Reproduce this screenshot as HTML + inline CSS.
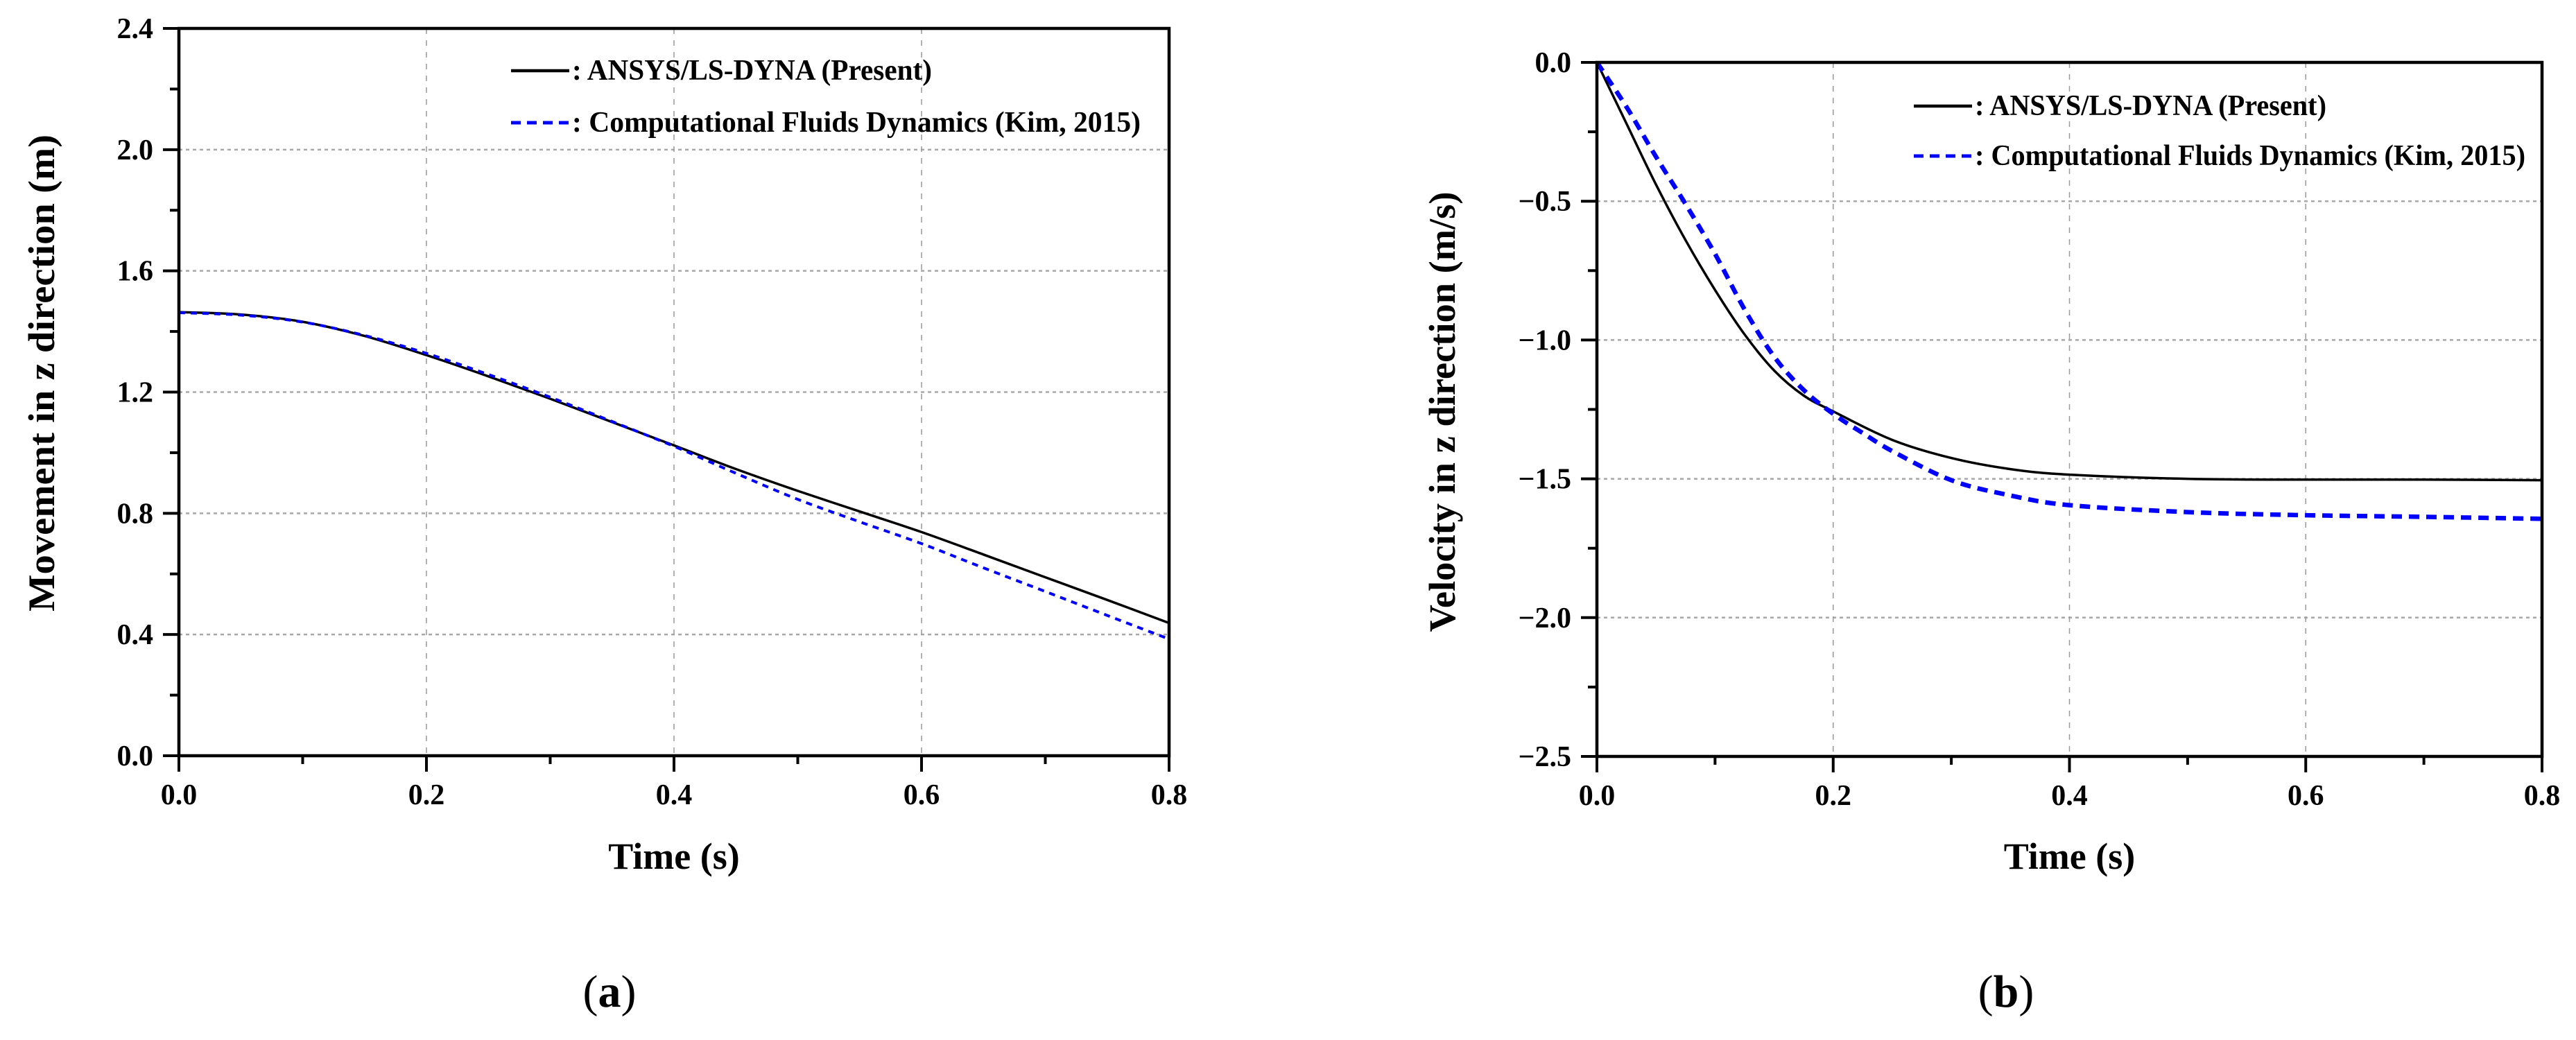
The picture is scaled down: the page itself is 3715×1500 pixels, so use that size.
<!DOCTYPE html>
<html><head><meta charset="utf-8"><style>
html,body{margin:0;padding:0;background:#fff}
svg{display:block}
text{font-family:"Liberation Serif",serif;font-weight:bold;fill:#000}
</style></head><body>
<svg id="fig" width="3715" height="1500" viewBox="0 0 3715 1500" xmlns="http://www.w3.org/2000/svg"></svg>
<script>
// Panel (a) data
const timeA = [0, 0.05, 0.1, 0.15, 0.2, 0.25, 0.3, 0.35, 0.4, 0.45, 0.5, 0.55, 0.6, 0.65, 0.7, 0.75, 0.8];
const movementLsDyna = [1.464, 1.456, 1.432, 1.385, 1.322, 1.252, 1.178, 1.101, 1.024, 0.946, 0.874, 0.806, 0.738, 0.664, 0.589, 0.514, 0.438];
const movementCfd = [1.462, 1.454, 1.431, 1.387, 1.328, 1.258, 1.183, 1.103, 1.021, 0.932, 0.846, 0.772, 0.700, 0.620, 0.542, 0.463, 0.385];
const yTicksA = [0.0, 0.4, 0.8, 1.2, 1.6, 2.0, 2.4];
const yTickLabelsA = ["0.0", "0.4", "0.8", "1.2", "1.6", "2.0", "2.4"];
// Panel (b) data
const timeB1 = [0, 0.025, 0.05, 0.075, 0.1, 0.125, 0.15, 0.175, 0.2, 0.25, 0.3, 0.35, 0.4, 0.5, 0.6, 0.7, 0.8];
const velocityLsDyna = [0, -0.22, -0.44, -0.64, -0.82, -0.98, -1.11, -1.20, -1.257, -1.36, -1.425, -1.465, -1.485, -1.50, -1.503, -1.503, -1.505];
const timeB2 = [0, 0.025, 0.05, 0.075, 0.1, 0.125, 0.15, 0.175, 0.2, 0.225, 0.25, 0.3, 0.35, 0.4, 0.5, 0.6, 0.7, 0.8];
const velocityCfd = [0, -0.16, -0.34, -0.51, -0.69, -0.89, -1.06, -1.18, -1.266, -1.335, -1.40, -1.505, -1.56, -1.595, -1.62, -1.631, -1.637, -1.644];
const yTicksB = [0.0, -0.5, -1.0, -1.5, -2.0, -2.5];
const yTickLabelsB = ["0.0", "\u22120.5", "\u22121.0", "\u22121.5", "\u22122.0", "\u22122.5"];
const xTicks = [0, 0.2, 0.4, 0.6, 0.8];
const xTickLabels = ["0.0", "0.2", "0.4", "0.6", "0.8"];

const NS = "http://www.w3.org/2000/svg";
const svg = document.getElementById('fig');
function mk(tag, attrs, parent, txt){
  const e = document.createElementNS(NS, tag);
  for (const k in attrs) e.setAttribute(k, attrs[k]);
  if (txt !== undefined) e.textContent = txt;
  (parent || svg).appendChild(e);
  return e;
}
function smoothPath(pts){
  let d = "M" + pts[0][0].toFixed(1) + "," + pts[0][1].toFixed(1);
  for (let i = 0; i < pts.length - 1; i++){
    const p0 = pts[Math.max(0,i-1)], p1 = pts[i], p2 = pts[i+1], p3 = pts[Math.min(pts.length-1,i+2)];
    const c1x = p1[0] + (p2[0]-p0[0])/6, c1y = p1[1] + (p2[1]-p0[1])/6;
    const c2x = p2[0] - (p3[0]-p1[0])/6, c2y = p2[1] - (p3[1]-p1[1])/6;
    d += " C" + c1x.toFixed(1) + "," + c1y.toFixed(1) + " " + c2x.toFixed(1) + "," + c2y.toFixed(1) + " " + p2[0].toFixed(1) + "," + p2[1].toFixed(1);
  }
  return d;
}

function panel(cfg){
  const g = mk('g', {});
  
  
  const xs = v => cfg.x0 + (v - 0) / 0.8 * (cfg.x1 - cfg.x0);
  const ys = v => cfg.yb + (v - cfg.ymin) / (cfg.ymax - cfg.ymin) * (cfg.yt - cfg.yb);
  cfg.yTicks.forEach(v => {
    if (v === cfg.ymin || v === cfg.ymax) return;
    const l = mk('line', {x1: cfg.x0, x2: cfg.x1, y1: ys(v), y2: ys(v), stroke: '#a8a8a8', 'stroke-width': 2.5, 'stroke-dasharray': '5,5'}, g);
    
    
  });
  xTicks.forEach(v => {
    if (v === 0 || v === 0.8) return;
    const l = mk('line', {x1: xs(v), x2: xs(v), y1: cfg.yt, y2: cfg.yb, stroke: '#999', 'stroke-width': 1.5, 'stroke-dasharray': '8,9'}, g);
    
    
  });
  const s1 = cfg.series1.t.map((t,i) => [xs(t), ys(cfg.series1.v[i])]);
  const p1 = mk('path', {d: smoothPath(s1), fill: 'none', stroke: '#000', 'stroke-width': 3.5}, g);
  
  
  const s2 = cfg.series2.t.map((t,i) => [xs(t), ys(cfg.series2.v[i])]);
  const p2 = mk('path', {d: smoothPath(s2), fill: 'none', stroke: '#0000ff', 'stroke-width': cfg.blueW, 'stroke-dasharray': cfg.blueDash}, g);
  
  
  const fr = mk('rect', {x: cfg.x0, y: cfg.yt, width: cfg.x1 - cfg.x0, height: cfg.yb - cfg.yt, fill: 'none', stroke: '#000', 'stroke-width': 4.5}, g);
  
  
  cfg.yTicks.forEach((v, i) => {
    const t = mk('line', {x1: cfg.x0 - 23, x2: cfg.x0, y1: ys(v), y2: ys(v), stroke: '#000', 'stroke-width': 4}, g);
    
    
    if (i < cfg.yTicks.length - 1){
      const m = (v + cfg.yTicks[i+1]) / 2;
      const mt = mk('line', {x1: cfg.x0 - 13, x2: cfg.x0, y1: ys(m), y2: ys(m), stroke: '#000', 'stroke-width': 4}, g);
      
      
    }
    const lb = mk('text', {x: cfg.x0 - 37, y: ys(v) + 14, 'text-anchor': 'end', 'font-size': 42}, g, cfg.yLabels[i]);
    
    
  });
  xTicks.forEach((v, i) => {
    const t = mk('line', {x1: xs(v), x2: xs(v), y1: cfg.yb, y2: cfg.yb + 23, stroke: '#000', 'stroke-width': 4}, g);
    
    
    if (i < xTicks.length - 1){
      const m = (v + xTicks[i+1]) / 2;
      const mt = mk('line', {x1: xs(m), x2: xs(m), y1: cfg.yb, y2: cfg.yb + 12, stroke: '#000', 'stroke-width': 4}, g);
      
      
    }
    const lb = mk('text', {x: xs(v), y: cfg.yb + 70, 'text-anchor': 'middle', 'font-size': 42}, g, xTickLabels[i]);
    
    
  });
  const xt = mk('text', {x: (cfg.x0 + cfg.x1) / 2, y: 1253, 'text-anchor': 'middle', 'font-size': 54}, g, 'Time (s)');
  
  
  const yt = mk('text', {x: 0, y: 0, 'text-anchor': 'middle', 'font-size': 54, textLength: cfg.yTitleLen, lengthAdjust: 'spacingAndGlyphs', transform: 'translate(' + (cfg.yTitleX + 18) + ',' + cfg.yTitleY + ') rotate(-90)'}, g, cfg.yTitle);
  
  
  const lg = mk('g', {}, g);
  
  
  const e1 = mk('line', {x1: cfg.legX, x2: cfg.legX + 84, y1: cfg.legY1 - 13, y2: cfg.legY1 - 13, stroke: '#000', 'stroke-width': 4.5}, lg);
  
  
  const t1 = mk('text', {x: cfg.legX + 88, y: cfg.legY1, 'font-size': 42, textLength: cfg.legW1, lengthAdjust: 'spacingAndGlyphs'}, lg, ': ANSYS/LS-DYNA (Present)');
  
  
  const e2 = mk('line', {x1: cfg.legX, x2: cfg.legX + 84, y1: cfg.legY2 - 13, y2: cfg.legY2 - 13, stroke: '#0000ff', 'stroke-width': 5, 'stroke-dasharray': '14,9'}, lg);
  
  
  const t2 = mk('text', {x: cfg.legX + 88, y: cfg.legY2, 'font-size': 42, textLength: cfg.legW2, lengthAdjust: 'spacingAndGlyphs'}, lg, ': Computational Fluids Dynamics (Kim, 2015)');
  
  
  const cap = mk('text', {x: cfg.capX, y: 1452, 'text-anchor': 'middle', 'font-size': 66, 'font-weight': 'normal'}, g);
  
  
  mk('tspan', {'font-weight': 'normal'}, cap, '(');
  mk('tspan', {'font-weight': 'bold'}, cap, cfg.capLetter);
  mk('tspan', {'font-weight': 'normal'}, cap, ')');
}

panel({name: 'panel-a-movement-chart', x0: 258, x1: 1686, yt: 41, yb: 1090, ymin: 0, ymax: 2.4,
  yTicks: yTicksA, yLabels: yTickLabelsA,
  series1: {t: timeA, v: movementLsDyna}, series2: {t: timeA, v: movementCfd},
  blueW: 4, blueDash: '9,8',
  yTitle: 'Movement in z direction (m)', yTitleX: 60, yTitleY: 538, yTitleLen: 688,
  legX: 737, legY1: 115, legY2: 190, legW1: 519, legW2: 820, capX: 879, capLetter: 'a'});
panel({name: 'panel-b-velocity-chart', x0: 2303, x1: 3666, yt: 90, yb: 1091, ymin: -2.5, ymax: 0,
  yTicks: yTicksB, yLabels: yTickLabelsB,
  series1: {t: timeB1, v: velocityLsDyna}, series2: {t: timeB2, v: velocityCfd},
  blueW: 6.5, blueDash: '15,10',
  yTitle: 'Velocity in z direction (m/s)', yTitleX: 2080, yTitleY: 594, yTitleLen: 635,
  legX: 2760, legY1: 166, legY2: 238, legW1: 507, legW2: 794, capX: 2893, capLetter: 'b'});
</script>
</body></html>
